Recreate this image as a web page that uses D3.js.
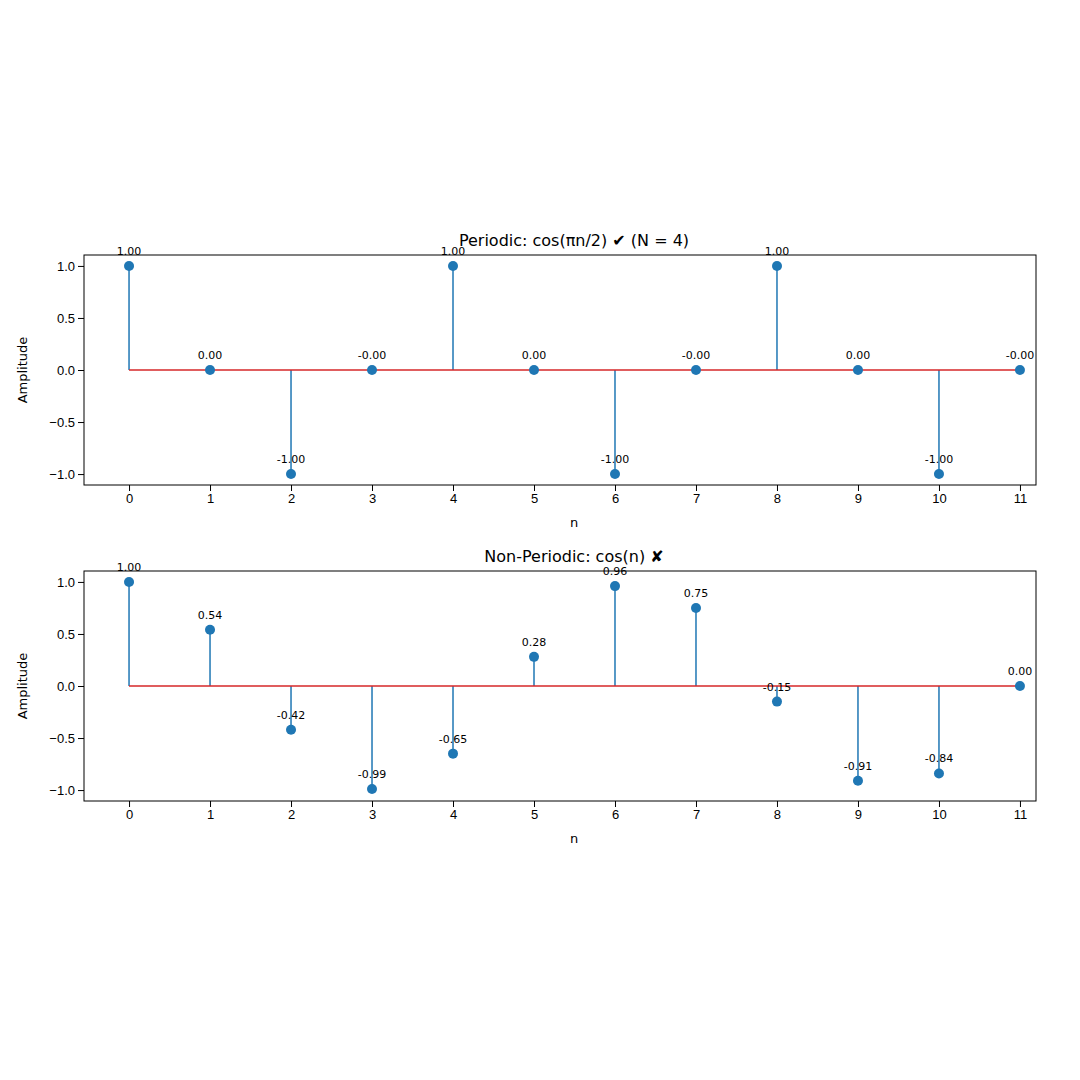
<!DOCTYPE html>
<html><head><meta charset="utf-8">
<script src="https://cdn.jsdelivr.net/npm/d3@7"></script>
<style>body{margin:0;background:#fff}svg{font-family:"DejaVu Sans",sans-serif}</style>
</head><body>
<svg id="c" width="1080" height="1080"></svg>
<script>
const nValues = [0,1,2,3,4,5,6,7,8,9,10,11];
const periodicValues = [1,0,-1,0,1,0,-1,0,1,0,-1,0];
const periodicLabels = ["1.00","0.00","-1.00","-0.00","1.00","0.00","-1.00","-0.00","1.00","0.00","-1.00","-0.00"];
const nonPeriodicValues = [1.00,0.54,-0.42,-0.99,-0.65,0.28,0.96,0.75,-0.15,-0.91,-0.84,0.00];
const nonPeriodicLabels = ["1.00","0.54","-0.42","-0.99","-0.65","0.28","0.96","0.75","-0.15","-0.91","-0.84","0.00"];
const yTicks = [-1.0,-0.5,0.0,0.5,1.0];
const titles = ["Periodic: cos(πn/2)  ✔  (N = 4)", "Non-Periodic: cos(n)  ✘"];

const svg = d3.select("#c");
const blue="#1f77b4", red="#d62728";
function panel(top, vals, labels, title){
  const L=84,R=1036,T=top,B=top+230;
  const x=d3.scaleLinear().domain([-0.556,11.198]).range([L,R]);
  const y=d3.scaleLinear().domain([-1.105,1.105]).range([B,T]);
  const g=svg.append("g");
  g.append("g").attr("transform",`translate(0,${B})`).call(d3.axisBottom(x).tickValues(nValues).tickFormat(d3.format("d")).tickSizeOuter(0))
   .call(a=>{a.selectAll("text").attr("font-size",13).attr("fill","#000");a.select(".domain").remove();});
  g.append("g").attr("transform",`translate(${L},0)`).call(d3.axisLeft(y).tickValues(yTicks).tickFormat(d=>d3.format(".1f")(d).replace("-","−")).tickSizeOuter(0))
   .call(a=>{a.selectAll("text").attr("font-size",13).attr("fill","#000");a.select(".domain").remove();});
  g.append("rect").attr("x",L).attr("y",T).attr("width",R-L).attr("height",B-T).attr("fill","none").attr("stroke","#000").attr("stroke-width",1);
  g.selectAll(".stem").data(vals).join("line").attr("x1",(d,i)=>x(nValues[i])).attr("x2",(d,i)=>x(nValues[i]))
    .attr("y1",y(0)).attr("y2",d=>y(d)).attr("stroke",blue).attr("stroke-width",1.5);
  g.append("line").attr("x1",x(0)).attr("x2",x(11)).attr("y1",y(0)).attr("y2",y(0)).attr("stroke",red).attr("stroke-width",1.5);
  g.selectAll(".pt").data(vals).join("circle").attr("cx",(d,i)=>x(nValues[i])).attr("cy",d=>y(d)).attr("r",5).attr("fill",blue);
  g.selectAll(".lb").data(vals).join("text").attr("x",(d,i)=>x(nValues[i])).attr("y",d=>y(d)-11)
    .attr("text-anchor","middle").attr("font-size",11).text((d,i)=>labels[i]);
  g.append("text").attr("x",(L+R)/2+14).attr("y",T-9).attr("text-anchor","middle").attr("font-size",16).text(title);
  g.append("text").attr("x",(L+R)/2+14).attr("y",B+42).attr("text-anchor","middle").attr("font-size",13).text("n");
  g.append("text").attr("transform",`translate(27,${(T+B)/2}) rotate(-90)`).attr("text-anchor","middle").attr("font-size",13).text("Amplitude");
}
panel(255, periodicValues, periodicLabels, titles[0]);
panel(571, nonPeriodicValues, nonPeriodicLabels, titles[1]);
</script>
</body></html>
